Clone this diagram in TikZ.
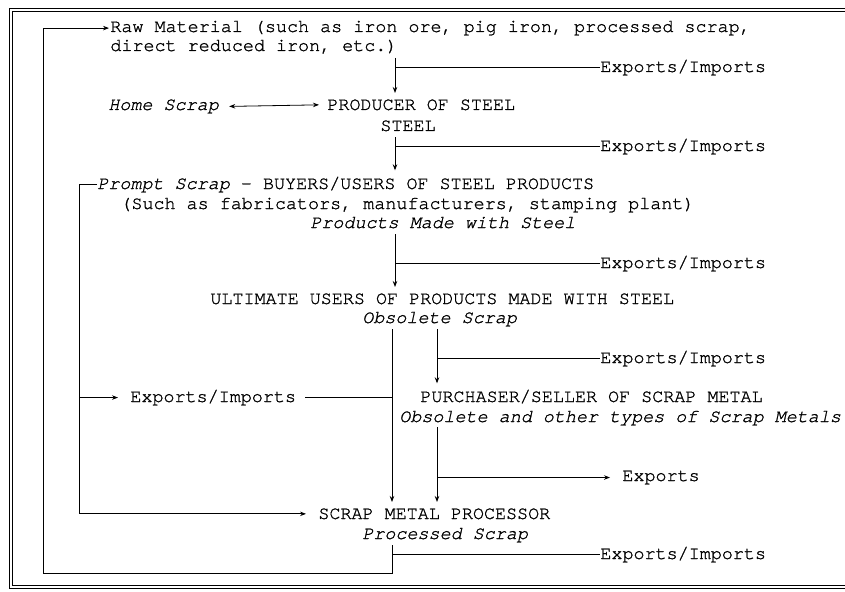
\documentclass[tikz,border=0pt]{standalone}
\usepackage{fontspec}
\setmonofont{texgyrecursor}[Extension=.otf, UprightFont=*-regular, ItalicFont=*-italic, UprightFeatures={FakeBold=1.2}, ItalicFeatures={FakeBold=1.2}]
\usetikzlibrary{arrows.meta}
\tikzset{
  lbl/.style={anchor=base west, inner sep=0pt, font=\ttfamily\fontsize{18.4}{20}\selectfont},
  ilbl/.style={lbl, font=\ttfamily\itshape\fontsize{18.4}{20}\selectfont},
  flow/.style={-{Stealth[length=6pt,width=4.5pt]}},
  twoway/.style={{Stealth[length=6pt,width=4.5pt]}-{Stealth[length=6pt,width=4.5pt]}},
}

\begin{document}
\begin{tikzpicture}[x=1pt,y=-1pt,line width=0.8pt]
\useasboundingbox (0,0) rectangle (845,591);

%Frame
\draw [double, double distance=2.5pt] (845,10) -- (11,10) -- (11,587) -- (845,587);

%Labels
\node[lbl] (raw) at (110,32) {Raw Material (such as iron ore, pig iron, processed scrap,};
\node[lbl] (raw2) at (110,51) {direct reduced iron, etc.)};
\node[ilbl] (home) at (108,110) {Home Scrap};
\node[lbl] (prod) at (327,110) {PRODUCER OF STEEL};
\node[lbl] (steel) at (380,131) {STEEL};
\node[lbl] (prompt) at (97,189) {{\itshape Prompt Scrap} - BUYERS/USERS OF STEEL PRODUCTS};
\node[lbl] (such) at (120,209) {(Such as fabricators, manufacturers, stamping plant)};
\node[ilbl] (made) at (310,228) {Products Made with Steel};
\node[lbl] (ult) at (210,304) {ULTIMATE USERS OF PRODUCTS MADE WITH STEEL};
\node[ilbl] (obs) at (362,323) {Obsolete Scrap};
\node[lbl] (ex) at (130,402) {Exports/Imports};
\node[lbl] (purch) at (420,402) {PURCHASER/SELLER OF SCRAP METAL};
\node[ilbl] (other) at (399,422) {Obsolete and other types of Scrap Metals};
\node[lbl] (exp) at (622,481) {Exports};
\node[lbl] (proc) at (318,519) {SCRAP METAL PROCESSOR};
\node[ilbl] (pscrap) at (362,539) {Processed Scrap};
\foreach \n/\y in {ei1/72, ei2/151, ei3/268, ei4/363, ei5/559}
  \node[lbl] (\n) at (600,\y) {Exports/Imports};

%Trunk Points
\coordinate (a) at (395,58);
\coordinate (b) at (395,137);
\coordinate (c) at (395,234);
\coordinate (d) at (392,329);
\coordinate (e) at (437,329);
\coordinate (f) at (437,427);
\coordinate (g) at (392,545);
\coordinate (h) at (43,573);
\coordinate (k) at (79,519);

%Main Flow
\draw [flow] (a) -- ([yshift=6pt]a |- prod.north);
\draw (a |- ei1.west) -- (ei1.west);
\draw [twoway] ([xshift=10pt]home.east) -- ([xshift=-8pt]prod.west);
\draw [flow] (b) -- ([yshift=6pt]b |- prompt.north);
\draw (b |- ei2.west) -- (ei2.west);
\draw [flow] (c) -- ([yshift=6pt]c |- ult.north);
\draw (c |- ei3.west) -- (ei3.west);
\draw [flow] (d) -- ([yshift=6pt]d |- proc.north);
\draw [flow] (e) -- ([yshift=6pt]e |- purch.north);
\draw (e |- ei4.west) -- (ei4.west);
\draw ([xshift=9pt]ex.east) -- (d |- ex.east);
\draw [flow] (f) -- ([yshift=6pt]f |- proc.north);
\draw [flow] (f |- exp.west) -- ([xshift=-12pt]exp.west);

%Scrap Loops
\draw [flow] (prompt.west) -| (k |- proc.west) -- ([xshift=-12pt]proc.west);
\draw [flow] (k |- ex.west) -- ([xshift=-12pt]ex.west);
\draw (g |- ei5.west) -- (ei5.west);
\draw [flow] (g) -- (g |- h) -- (h) |- ([xshift=-1pt]raw.west);
\end{tikzpicture}
\end{document}
